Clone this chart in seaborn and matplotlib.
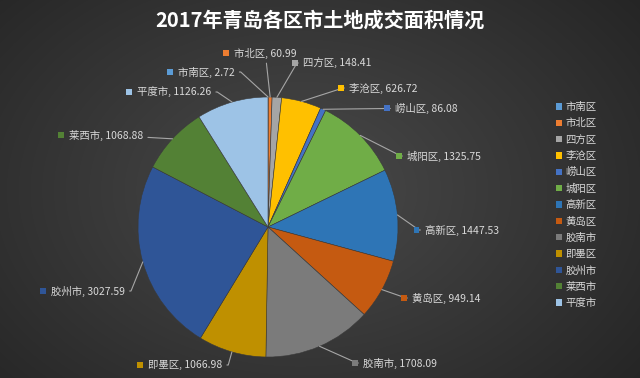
import numpy as np
import matplotlib.pyplot as plt
from matplotlib.patches import Patch, Rectangle
import seaborn as sns

districts = ['市南区', '市北区', '四方区', '李沧区', '崂山区', '城阳区', '高新区',
             '黄岛区', '胶南市', '即墨区', '胶州市', '莱西市', '平度市']
area = [2.72, 60.99, 148.41, 626.72, 86.08, 1325.75, 1447.53,
        949.14, 1708.09, 1066.98, 3027.59, 1068.88, 1126.26]
colors = ['#5B9BD5', '#ED7D31', '#A5A5A5', '#FFC000', '#4472C4', '#70AD47', '#2E75B6',
          '#C55A11', '#7B7B7B', '#BF9000', '#2F5597', '#538135', '#9DC3E6']

# where each data label's text starts (pixels from top-left) and how its leader line leaves it
label_xy = [(178, 72), (234, 53), (303, 63), (349, 88), (395, 108), (407, 156), (425, 230),
            (412, 298), (363, 363), (148, 365), (51, 291), (69, 135), (137, 92)]
label_arm = ['right', None, 'left', 'left', None, 'left', 'left',
             'left', 'left', 'right', 'right', None, 'right']

sns.set_theme(style='dark')
plt.rcParams['font.family'] = ['Noto Sans CJK SC', 'DejaVu Sans']
pal = sns.color_palette(colors)

W, H = 640, 378
fig = plt.figure(figsize=(W / 100, H / 100), dpi=100)

# dark radial background
bg = fig.add_axes([0, 0, 1, 1], zorder=-5)
yy, xx = np.mgrid[0:H, 0:W]
d = np.sqrt(((xx - 300) / 420.0) ** 2 + ((yy - 190) / 300.0) ** 2)
shade = np.clip(0.29 - 0.14 * d, 0.14, 0.29)
bg.imshow(np.dstack([shade] * 3), aspect='auto', extent=(0, W, H, 0))
bg.axis('off')

cx, cy, r = 268, 227, 130
ax = fig.add_axes([(cx - r) / W, (H - cy - r) / H, 2 * r / W, 2 * r / H])
ax.set_facecolor('none')
wedges, _ = ax.pie(area, colors=pal, startangle=90, counterclock=False,
                   wedgeprops=dict(edgecolor='#3a3a3a', linewidth=0.4))
ax.set_xlim(-1, 1)
ax.set_ylim(-1, 1)
ax.axis('off')

total = sum(area)
start = 90.0
for i, name in enumerate(districts):
    sweep = area[i] / total * 360
    mid = np.deg2rad(start - sweep / 2)
    start -= sweep
    tx, ty = label_xy[i]
    arm = label_arm[i]
    if arm == 'right':
        cs, rp = 'arc,angleA=0,armA=6,rad=0', (1, 0.5)
    elif arm == 'left':
        cs, rp = 'arc,angleA=180,armA=6,rad=0', (0, 0.5)
    else:
        cs, rp = 'arc3,rad=0', (0.5, 0.5)
    ax.annotate(f'{name}, {area[i]:.2f}', xy=(np.cos(mid), np.sin(mid)),
                xytext=(tx, H - ty), textcoords='figure pixels',
                ha='left', va='center', fontsize=7.5, color='#d9d9d9',
                annotation_clip=False,
                arrowprops=dict(arrowstyle='-', color='#a6a6a6', lw=0.8,
                                shrinkA=1, shrinkB=0, relpos=rp, connectionstyle=cs))
    fig.add_artist(Rectangle(((tx - 11) / 100, (H - ty - 2.5) / 100), 0.055, 0.055,
                             transform=fig.dpi_scale_trans, facecolor=pal[i],
                             edgecolor='none', zorder=5))

fig.text(0.5, 1 - 20 / H, '2017年青岛各区市土地成交面积情况', ha='center', va='center',
         fontsize=14.5, fontweight='bold', color='white')

handles = [Patch(facecolor=c, edgecolor='none') for c in pal]
fig.legend(handles, districts, loc='upper left', bbox_to_anchor=(551 / W, 1 - 97 / H),
           frameon=False, fontsize=7.5, labelcolor='#d9d9d9', handlelength=0.55,
           handleheight=0.55, handletextpad=0.35, labelspacing=0.6, borderpad=0)

fig.savefig('out.png', dpi=100)
